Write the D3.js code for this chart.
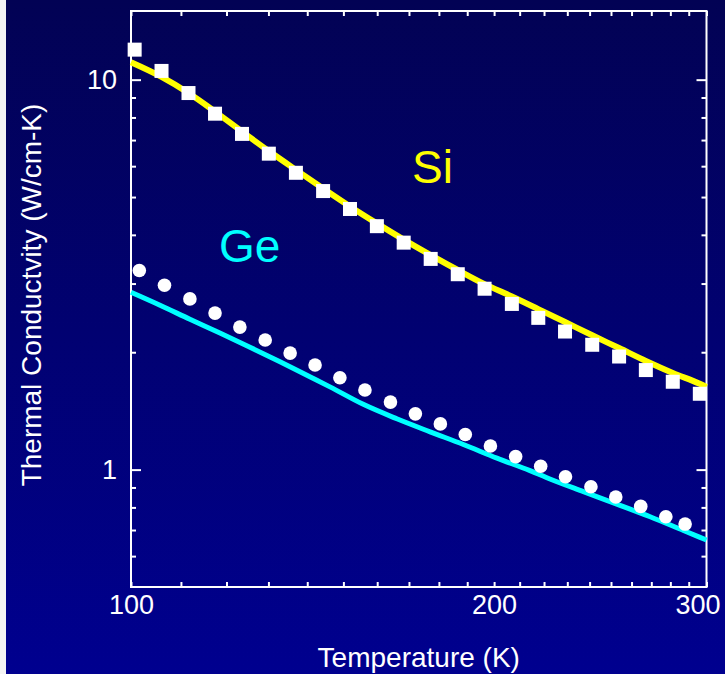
<!DOCTYPE html>
<html>
<head>
<meta charset="utf-8">
<script src="https://cdn.jsdelivr.net/npm/d3@7"></script>
<style>
  html, body { margin: 0; padding: 0; background: #000070; }
  svg { display: block; }
  text { font-family: "Liberation Sans", Arial, Helvetica, sans-serif; }
</style>
</head>
<body>
<svg id="chart" width="725" height="674"></svg>
<script>
// ---- Data ----
const siT = [100.7,106.0,111.6,117.4,123.6,130.1,137.0,144.3,151.9,159.9,168.3,177.2,186.6,196.4,206.9,217.6,229.0,241.2,253.9,267.2,281.3,296.2];
const siK = [11.94,10.53,9.24,8.18,7.26,6.46,5.77,5.18,4.66,4.21,3.82,3.47,3.17,2.91,2.66,2.45,2.26,2.09,1.95,1.80,1.68,1.565];

const siFitT = [100,106.0,111.6,117.4,123.6,130.1,137.0,144.3,151.9,159.9,168.3,177.2,186.6,196.4,206.9,217.6,229.0,241.2,253.9,267.2,281.3,296.2,300];
const siFitK = [11.08,10.16,9.24,8.28,7.36,6.56,5.87,5.26,4.73,4.28,3.89,3.55,3.25,2.99,2.78,2.58,2.39,2.21,2.05,1.90,1.77,1.66,1.63];

const geT = [101.6,106.6,111.9,117.4,123.1,129.2,135.5,142.1,149.0,156.3,164.1,172.1,180.5,189.3,198.6,208.4,218.6,229.2,240.6,252.3,264.6,277.6,288.0];
const geK = [3.24,2.97,2.74,2.52,2.32,2.15,1.99,1.855,1.72,1.60,1.49,1.39,1.31,1.23,1.15,1.08,1.02,0.959,0.904,0.851,0.805,0.757,0.725];

const geFitT = [100,105.7,111.9,118.5,125.5,132.9,140.7,146.2,155.8,166.1,177.0,188.6,201.1,214.2,222.5,237.2,252.8,269.4,287.1,300];
const geFitK = [2.85,2.64,2.43,2.24,2.06,1.89,1.73,1.63,1.47,1.35,1.25,1.16,1.07,0.994,0.946,0.878,0.816,0.757,0.698,0.660];

const xTickValues = [100,110,120,130,140,150,160,170,180,190,200,210,220,230,240,250,260,270,280,290,300];
const xTickLabels = [100,200,300];
const yMinorTicks = [0.6,0.7,0.8,0.9,2,3,4,5,6,7,8,9];
const yTickLabels = [1,10];

const seriesLabels = [
  {name: "Si", T: 171, K: 5.43, color: "#ffff00"},
  {name: "Ge", T: 118.3, K: 3.41, color: "#00ffff"}
];

(function draw() {
  const W = 725, H = 674;
  const mLeft = 131, mRight = 706.5, mTop = 11, mBottom = 587;

  const svg = d3.select("#chart");
  const defs = svg.append("defs");
  const grad = defs.append("linearGradient").attr("id","bg").attr("x1",0).attr("y1",0).attr("x2",0).attr("y2",1);
  grad.append("stop").attr("offset","0%").attr("stop-color","#020254");
  grad.append("stop").attr("offset","100%").attr("stop-color","#00008f");
  svg.append("rect").attr("width",W).attr("height",H).attr("fill","url(#bg)");
  svg.append("rect").attr("x",0).attr("y",0).attr("width",6).attr("height",H).attr("fill","#f4f4f4");

  const x = d3.scaleLog().domain([100,300]).range([mLeft,mRight]);
  const y = d3.scaleLog().domain([0.5,15]).range([mBottom,mTop]);

  const fmtX = d => xTickLabels.includes(d) ? String(d) : "";
  const gB = svg.append("g").attr("transform",`translate(0,${mBottom})`)
    .call(d3.axisBottom(x).tickValues(xTickValues).tickSize(-5).tickPadding(8).tickFormat(fmtX));
  const gT = svg.append("g").attr("transform",`translate(0,${mTop})`)
    .call(d3.axisTop(x).tickValues(xTickValues).tickSize(-5).tickFormat(() => ""));
  const gL = svg.append("g").attr("transform",`translate(${mLeft},0)`)
    .call(d3.axisLeft(y).tickValues(yMinorTicks).tickSize(-5).tickFormat(() => ""));
  const gLM = svg.append("g").attr("transform",`translate(${mLeft},0)`)
    .call(d3.axisLeft(y).tickValues(yTickLabels).tickSize(-10).tickPadding(14).tickFormat(d => String(d)));
  const gR = svg.append("g").attr("transform",`translate(${mRight},0)`)
    .call(d3.axisRight(y).tickValues(yMinorTicks).tickSize(-5).tickFormat(() => ""));
  const gRM = svg.append("g").attr("transform",`translate(${mRight},0)`)
    .call(d3.axisRight(y).tickValues(yTickLabels).tickSize(-10).tickFormat(() => ""));

  [gB,gT,gL,gLM,gR,gRM].forEach(g => {
    g.select(".domain").remove();
    g.selectAll(".tick line").attr("stroke","#ffffff").attr("stroke-width",2);
    g.selectAll(".tick text").attr("fill","#ffffff").attr("font-size",27)
      .attr("font-family",'"Liberation Sans", Arial, sans-serif');
  });
  gB.selectAll(".tick text").filter(d => d === 300).attr("dx", -9);

  svg.append("rect").attr("x",mLeft).attr("y",mTop).attr("width",mRight-mLeft).attr("height",mBottom-mTop)
    .attr("fill","none").attr("stroke","#ffffff").attr("stroke-width",2);

  const line = d3.line().x(d => x(d[0])).y(d => y(d[1])).curve(d3.curveMonotoneX);
  svg.append("path").datum(siFitT.map((t,i)=>[t,siFitK[i]]))
    .attr("d",line).attr("fill","none").attr("stroke","#ffff00").attr("stroke-width",6);
  svg.append("path").datum(geFitT.map((t,i)=>[t,geFitK[i]]))
    .attr("d",line).attr("fill","none").attr("stroke","#00ffff").attr("stroke-width",5);

  const sq = 14;
  svg.append("g").selectAll("rect").data(siT.map((t,i)=>[t,siK[i]])).join("rect")
    .attr("x",d => x(d[0]) - sq/2).attr("y",d => y(d[1]) - sq/2)
    .attr("width",sq).attr("height",sq).attr("fill","#ffffff");
  svg.append("g").selectAll("circle").data(geT.map((t,i)=>[t,geK[i]])).join("circle")
    .attr("cx",d => x(d[0])).attr("cy",d => y(d[1])).attr("r",6.8).attr("fill","#ffffff");

  svg.append("g").selectAll("text").data(seriesLabels).join("text")
    .attr("x",d => x(d.T)).attr("y",d => y(d.K))
    .attr("fill",d => d.color).attr("font-size",46).text(d => d.name);

  svg.append("text").attr("x",(mLeft+mRight)/2).attr("y",667).attr("text-anchor","middle")
    .attr("fill","#ffffff").attr("font-size",28).text("Temperature (K)");
  svg.append("text").attr("transform",`translate(41,295) rotate(-90)`).attr("text-anchor","middle")
    .attr("fill","#ffffff").attr("font-size",28).text("Thermal Conductvity (W/cm-K)");
})();
</script>
</body>
</html>
